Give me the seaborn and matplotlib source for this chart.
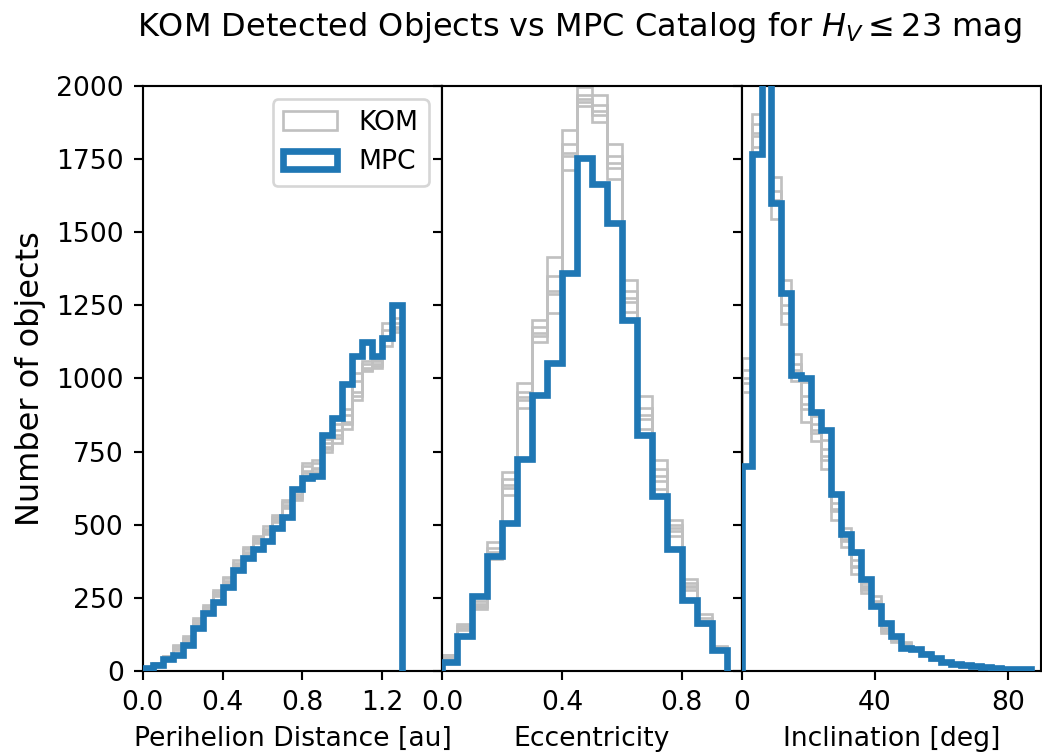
import numpy as np
import pandas as pd
import matplotlib
matplotlib.use("Agg")
import matplotlib.pyplot as plt
from matplotlib.patches import Patch
import seaborn as sns

# ---------------- data ----------------
q_edges = np.round(np.arange(0, 1.3001, 0.05), 3)          # perihelion distance [au]
e_edges = np.round(np.arange(0, 0.9501, 0.05), 3)          # eccentricity
i_edges = np.arange(0, 88, 3).astype(float)                # inclination [deg]

mpc_q = [10, 20, 41, 55, 89, 146, 197, 237, 288, 345, 385, 417, 445, 488, 526,
         622, 660, 665, 808, 864, 980, 1075, 1126, 1075, 1137, 1251]
mpc_e = [31, 118, 255, 392, 507, 723, 943, 1054, 1359, 1754, 1666, 1531, 1201,
         806, 599, 416, 243, 165, 73]
mpc_i = [700, 1768, 2150, 1598, 1293, 1013, 1000, 885, 824, 604, 467, 408, 313,
         221, 163, 120, 78, 75, 59, 43, 30, 24, 20, 16, 13, 10, 8, 6, 5]

kom_q = [
    [10, 22, 44, 72, 100, 160, 205, 255, 298, 352, 398, 438, 468, 508, 558, 585, 668, 680, 748, 778, 828, 925, 1025, 1035, 1110, 1160],
    [14, 28, 52, 88, 120, 180, 226, 278, 322, 378, 424, 462, 494, 534, 584, 615, 712, 722, 792, 845, 896, 1020, 1058, 1066, 1190, 1205],
    [12, 24, 47, 78, 108, 168, 212, 262, 308, 362, 406, 448, 478, 518, 568, 598, 685, 695, 765, 805, 850, 955, 1035, 1042, 1140, 1170],
    [11, 26, 50, 84, 114, 174, 220, 270, 316, 370, 416, 456, 486, 526, 576, 606, 700, 710, 780, 825, 875, 990, 1048, 1058, 1165, 1190],
    [13, 23, 46, 76, 106, 164, 208, 258, 302, 358, 402, 442, 472, 512, 562, 592, 676, 690, 758, 795, 845, 940, 1030, 1050, 1130, 1175],
]
kom_e = [
    [45, 140, 212, 382, 602, 898, 1125, 1225, 1712, 1930, 1875, 1680, 1228, 828, 622, 462, 276, 158, 74],
    [56, 162, 238, 440, 680, 985, 1200, 1415, 1850, 1995, 1970, 1800, 1335, 940, 720, 516, 314, 195, 86],
    [50, 148, 222, 405, 635, 935, 1155, 1300, 1770, 1955, 1915, 1735, 1275, 875, 665, 488, 292, 172, 79],
    [53, 155, 230, 420, 655, 955, 1175, 1350, 1800, 1970, 1935, 1760, 1300, 900, 690, 500, 302, 182, 82],
    [47, 145, 220, 398, 625, 925, 1145, 1290, 1760, 1945, 1900, 1720, 1262, 860, 650, 480, 288, 168, 77],
]
kom_i = [
    [955, 1790, 2080, 1545, 1185, 990, 850, 785, 690, 515, 422, 330, 268, 218, 131, 99, 86, 70, 53, 38, 27, 22, 18, 15, 12, 9, 7, 5, 4],
    [1068, 1905, 2220, 1688, 1338, 1082, 988, 872, 790, 600, 490, 398, 300, 255, 157, 118, 98, 80, 63, 46, 33, 26, 22, 17, 14, 11, 9, 7, 6],
    [1000, 1840, 2140, 1610, 1250, 1030, 912, 825, 735, 555, 450, 360, 283, 232, 140, 106, 91, 74, 57, 41, 30, 24, 20, 16, 13, 10, 8, 6, 5],
    [1030, 1870, 2170, 1640, 1290, 1050, 940, 845, 760, 575, 468, 378, 292, 240, 148, 112, 94, 77, 60, 43, 31, 25, 21, 16, 13, 10, 8, 6, 5],
    [985, 1830, 2110, 1595, 1225, 1015, 895, 812, 720, 545, 445, 355, 278, 228, 138, 104, 89, 73, 56, 41, 29, 23, 19, 15, 12, 10, 8, 6, 5],
]

xlabels = ["Perihelion Distance [au]", "Eccentricity", "Inclination [deg]"]
xlims = [(0, 1.5), (0, 1.0), (0, 90)]
xticks = [[0.0, 0.4, 0.8, 1.2], [0.0, 0.4, 0.8], [0, 40, 80]]
yticks = list(range(0, 2001, 250))
title = r"KOM Detected Objects vs MPC Catalog for $H_V \leq 23$ mag"

KOM_COLOR = "silver"
MPC_COLOR = "#1f77b4"

# ---------------- figure ----------------
DPI = 192
fig, axes = plt.subplots(1, 3, sharey=True, figsize=(1042 / DPI, 753 / DPI), dpi=DPI)
fig.subplots_adjust(left=0.137, right=0.999, bottom=0.109, top=0.886, wspace=0)


def draw_step(ax, edges, counts, color, lw, zorder):
    edges = np.asarray(edges, dtype=float)
    counts = np.asarray(counts, dtype=float)
    tiny = (edges[-1] - edges[0]) * 1e-6
    bins = [edges[0] - tiny] + list(edges) + [edges[-1] + tiny]
    df = pd.DataFrame({"x": 0.5 * (edges[:-1] + edges[1:]), "w": counts})
    sns.histplot(data=df, x="x", weights="w", bins=bins, element="step", fill=False,
                 color=color, linewidth=lw, ax=ax, zorder=zorder,
                 solid_joinstyle="miter")


panels = [(q_edges, kom_q, mpc_q), (e_edges, kom_e, mpc_e), (i_edges, kom_i, mpc_i)]
for ax, (edges, koms, mpc), xl, xlim, xt in zip(axes, panels, xlabels, xlims, xticks):
    for k in koms:
        draw_step(ax, edges, k, KOM_COLOR, 1.0, 2)
    draw_step(ax, edges, mpc, MPC_COLOR, 2.5, 3)
    ax.set_xlim(*xlim)
    ax.set_xticks(xt)
    ax.set_xlabel(xl, fontsize=10)
    ax.set_ylabel("")
    ax.tick_params(labelsize=10)

axes[0].set_ylim(0, 2000)
axes[0].set_yticks(yticks)
axes[0].set_ylabel("Number of objects", fontsize=12)

handles = [Patch(facecolor="none", edgecolor=KOM_COLOR, linewidth=1.0),
           Patch(facecolor="none", edgecolor=MPC_COLOR, linewidth=2.5)]
axes[0].legend(handles, ["KOM", "MPC"], loc="upper right", fontsize=10)

fig.suptitle(title, x=0.556, y=0.964, va="center", fontsize=12)

fig.savefig("out.png", dpi=DPI)
